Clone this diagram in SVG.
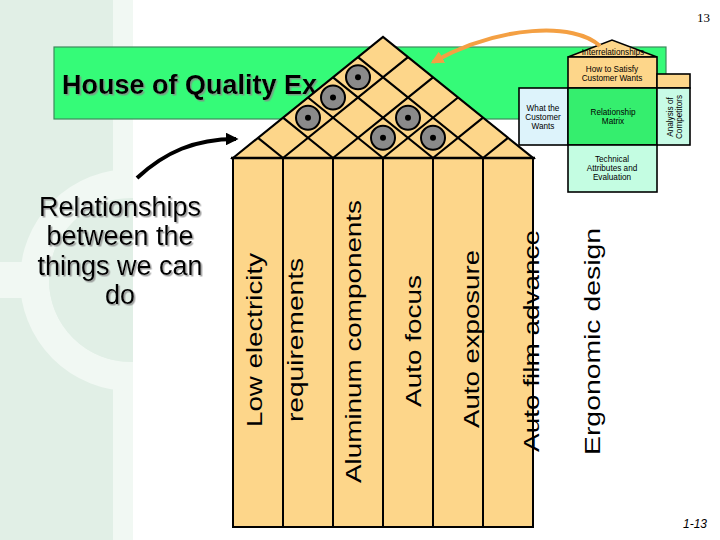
<svg xmlns="http://www.w3.org/2000/svg" width="720" height="540" viewBox="0 0 720 540">
<defs>
<style>
.col{fill:#fdd68a;stroke:#000;stroke-width:2}
.grid{stroke:#000;stroke-width:2.2;fill:none}
.ctext{font-family:"Liberation Sans",Arial,sans-serif;font-size:28px;fill:#000}
.small{font-family:"Liberation Sans",Arial,sans-serif;font-size:8.2px;fill:#000;text-anchor:middle}
.box{stroke:#000;stroke-width:1.6}
</style>
<filter id="sh" x="-10%" y="-10%" width="130%" height="140%">
<feDropShadow dx="1.5" dy="1.5" stdDeviation="0.6" flood-color="#888" flood-opacity="0.8"/>
</filter>
<clipPath id="leftclip"><rect x="0" y="0" width="133" height="540"/></clipPath>
<marker id="ab" viewBox="0 0 10 10" refX="8" refY="5" markerWidth="3.2" markerHeight="3.2" orient="auto"><path d="M0,0 L10,5 L0,10 z" fill="#000"/></marker>
<marker id="ao" viewBox="0 0 10 10" refX="8" refY="5" markerWidth="3.2" markerHeight="3.2" orient="auto"><path d="M0,0 L10,5 L0,10 z" fill="#f4a043"/></marker>
</defs>
<rect x="0" y="0" width="720" height="540" fill="#fff"/>
<g id="background">
<rect x="0" y="0" width="113" height="540" fill="#e1efe6"/>
<rect x="113" y="0" width="20" height="540" fill="#f1f8f3"/>
<g clip-path="url(#leftclip)">
<rect x="0" y="262" width="40" height="36" fill="#f1f8f3"/>
<circle cx="131" cy="280" r="96.5" fill="none" stroke="#f1f8f3" stroke-width="29"/>
<circle cx="131" cy="280" r="82" fill="#e1efe6"/>
</g>
</g>
<g id="title">
<rect x="54" y="47" width="612" height="72" fill="#35fb78" stroke="#3c8a5c" stroke-width="1.2"/>
<text x="62" y="94" font-family="Liberation Sans,Arial,sans-serif" font-size="27" font-weight="bold" filter="url(#sh)">House of Quality Ex</text>
</g>
<g id="qfd-house">
<polygon points="233,158 383,37 533,158" fill="#fdd68a" stroke="#000" stroke-width="2.2"/>
<path class="grid" d="M283,158 L408,57.2 M333,158 L433,77.3 M383,158 L458,97.5 M433,158 L483,117.7 M483,158 L508,137.8 M283,158 L258,137.8 M333,158 L283,117.7 M383,158 L308,97.5 M433,158 L333,77.3 M483,158 L358,57.2"/>
<g fill="#8a8a8a" stroke="#000" stroke-width="2">
<circle cx="358" cy="77.3" r="12"/>
<circle cx="333" cy="97.5" r="12"/>
<circle cx="308" cy="117.7" r="12"/>
<circle cx="408" cy="117.7" r="12"/>
<circle cx="383" cy="137.8" r="12"/>
<circle cx="433" cy="137.8" r="12"/>
</g>
<g fill="#000">
<circle cx="358" cy="77.3" r="3"/>
<circle cx="333" cy="97.5" r="3"/>
<circle cx="308" cy="117.7" r="3"/>
<circle cx="408" cy="117.7" r="3"/>
<circle cx="383" cy="137.8" r="3"/>
<circle cx="433" cy="137.8" r="3"/>
</g>
<rect class="col" x="233" y="158" width="50" height="369"/>
<rect class="col" x="283" y="158" width="50" height="369"/>
<rect class="col" x="333" y="158" width="50" height="369"/>
<rect class="col" x="383" y="158" width="50" height="369"/>
<rect class="col" x="433" y="158" width="50" height="369"/>
<rect class="col" x="483" y="158" width="50" height="369"/>
<line x1="231" y1="158" x2="535" y2="158" stroke="#000" stroke-width="2.5"/>
<text class="ctext" transform="translate(262,427) rotate(-90) scale(1,0.78)" textLength="174" lengthAdjust="spacingAndGlyphs">Low electricity</text>
<text class="ctext" transform="translate(303,422) rotate(-90) scale(1,0.78)" textLength="164" lengthAdjust="spacingAndGlyphs">requirements</text>
<text class="ctext" transform="translate(361,483) rotate(-90) scale(1,0.78)" textLength="283" lengthAdjust="spacingAndGlyphs">Aluminum components</text>
<text class="ctext" transform="translate(421,407) rotate(-90) scale(1,0.78)" textLength="132" lengthAdjust="spacingAndGlyphs">Auto focus</text>
<text class="ctext" transform="translate(479,428) rotate(-90) scale(1,0.78)" textLength="178" lengthAdjust="spacingAndGlyphs">Auto exposure</text>
<text class="ctext" transform="translate(539,452) rotate(-90) scale(1,0.78)" textLength="222" lengthAdjust="spacingAndGlyphs">Auto film advance</text>
<text class="ctext" transform="translate(600,455) rotate(-90) scale(1,0.78)" textLength="227" lengthAdjust="spacingAndGlyphs">Ergonomic design</text>
</g>
<g id="label" font-family="Liberation Sans,Arial,sans-serif" font-size="27" text-anchor="middle" filter="url(#sh)">
<text x="120" y="216">Relationships</text>
<text x="120" y="245">between the</text>
<text x="120" y="275">things we can</text>
<text x="120" y="304">do</text>
</g>
<g id="mini-house">
<polygon points="568,57 612,40 657,57" fill="#fdd68a" stroke="#000" stroke-width="1.6"/>
<text class="small" x="613" y="55" font-size="6">Interrelationships</text>
<rect class="box" x="568" y="57" width="89" height="31" fill="#fdd68a"/>
<rect class="box" x="657" y="74" width="33" height="14" fill="#fdd68a"/>
<rect class="box" x="519" y="88" width="49" height="57" fill="#ddf3fb"/>
<rect class="box" x="568" y="88" width="89" height="57" fill="#35ee6e"/>
<rect class="box" x="657" y="88" width="33" height="57" fill="#c8fbe6"/>
<rect class="box" x="568" y="145" width="89" height="47" fill="#c4fde2"/>
<text class="small" x="612" y="72" font-size="8.6">How to Satisfy</text>
<text class="small" x="612" y="81" font-size="8.6">Customer Wants</text>
<text class="small" x="543" y="111">What the</text>
<text class="small" x="543" y="120">Customer</text>
<text class="small" x="543" y="129">Wants</text>
<text class="small" x="613" y="115">Relationship</text>
<text class="small" x="613" y="124">Matrix</text>
<text class="small" x="612" y="162">Technical</text>
<text class="small" x="612" y="171">Attributes and</text>
<text class="small" x="612" y="180">Evaluation</text>
<text class="small" transform="translate(673,117) rotate(-90)" font-size="7.8">Analysis of</text>
<text class="small" transform="translate(682,117) rotate(-90)" font-size="7.8">Competitors</text>
</g>
<g id="connectors" fill="none">
<path d="M137,178 C165,152 195,139 236,139" stroke="#000" stroke-width="4" marker-end="url(#ab)"/>
<path d="M600,46 C575,22 500,25 433,62" stroke="#f4a043" stroke-width="4" marker-end="url(#ao)"/>
</g>
<text x="710" y="22" font-family="Liberation Serif,serif" font-size="13" text-anchor="end">13</text>
<text x="707" y="528" font-family="Liberation Sans,Arial,sans-serif" font-size="12" font-style="italic" text-anchor="end">1-13</text>
</svg>
